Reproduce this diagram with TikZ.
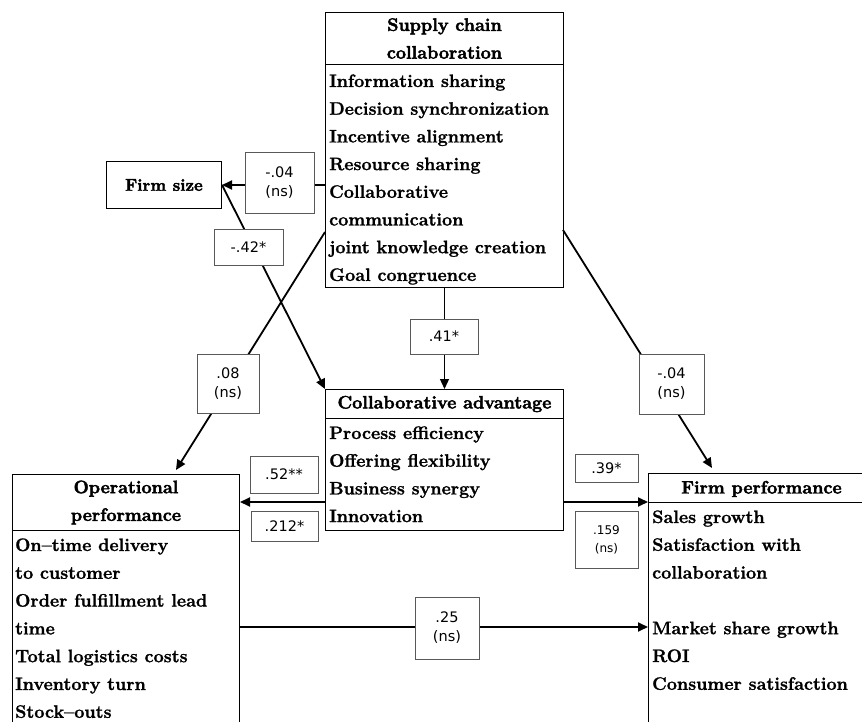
\documentclass[tikz,border=0pt]{standalone}
\usepackage{fontspec}
\setmainfont{Latin Modern Roman}[BoldFeatures={FakeBold=1.3}]
\newfontfamily\ttlfont{Latin Modern Roman}[BoldFeatures={FakeBold=2.4}]
\newfontfamily\labfont{DejaVu Sans}
\usetikzlibrary{arrows.meta,calc}
\begin{document}
\begin{tikzpicture}[x=1pt,y=-1pt,
  box/.style={draw=black, line width=1pt, inner sep=0pt, anchor=north west, align=center,
    font=\ttlfont\fontsize{18}{27.7}\selectfont\bfseries},
  item/.style={anchor=west, font=\fontsize{18}{20}\selectfont\bfseries, inner sep=0pt,
    text height=14pt, text depth=4pt},
  lab/.style={draw=black!65, line width=0.8pt, fill=white, align=center, inner sep=0pt,
    font=\labfont\fontsize{14.5}{19}\selectfont},
  arr/.style={-{Triangle[length=10pt,width=9pt]}, line width=1.8pt},
  varr/.style={-{Triangle[length=10pt,width=9pt]}, line width=1.3pt}]

\useasboundingbox (0,0) rectangle (862,722);
\clip (0,0) rectangle (862,722);

% ---- main boxes ----
\node[box, minimum width=238pt, minimum height=52pt] (scct) at (325,12) {Supply chain\\collaboration};
\node[box, minimum width=238pt, minimum height=223pt] (sccb) at (325,64) {};
\foreach \t [count=\i from 0] in {Information sharing, Decision synchronization, Incentive alignment,
  Resource sharing, Collaborative, communication, joint knowledge creation, Goal congruence}
  \node[item] (scci\i) at (329,{82+\i*27.7}) {\t};

\node[box, minimum width=115pt, minimum height=47pt, font=\ttlfont\fontsize{17}{20}\selectfont\bfseries]
  (fs) at (106,161) {Firm size};

\node[box, minimum width=238pt, minimum height=29pt] (cat) at (325,389) {Collaborative advantage};
\node[box, minimum width=238pt, minimum height=112pt] (cab) at (325,418) {};
\foreach \t [count=\i from 0] in {Process efficiency, Offering flexibility, Business synergy, Innovation}
  \node[item] (cai\i) at (329,{434+\i*27.7}) {\t};

\node[box, minimum width=227pt, minimum height=56pt] (opt) at (12,474) {Operational\\performance};
\node[box, minimum width=227pt, minimum height=220pt] (opb) at (12,530) {};
\foreach \t [count=\i from 0] in {On--time delivery, to customer, Order fulfillment lead, time,
  Total logistics costs, Inventory turn, Stock--outs}
  \node[item] (opi\i) at (15,{546+\i*27.8}) {\t};

\node[box, minimum width=226pt, minimum height=29pt, text height=13pt, text depth=2pt] (fpt) at (648,473) {Firm performance};
\node[box, minimum width=226pt, minimum height=240pt] (fpb) at (648,502) {};
\foreach \t/\k in {Sales growth/0, Satisfaction with/1, collaboration/2,
  Market share growth/4, ROI/5, Consumer satisfaction/6}
  \node[item] (fpi\k) at (652,{518+\k*27.8}) {\t};

% ---- connector end points ----
\coordinate (sccL) at (325,232);
\coordinate (opA) at (176,470);
\coordinate (sccR) at (563,230);
\coordinate (fpA) at (712,468);
\coordinate (yA) at (0,502);
\coordinate (yB) at (0,627);

% ---- connectors ----
\draw[arr] (sccb.west |- fs.east) -- (fs.east);
\draw[arr] (fs.east) -- (cat.north west);
\draw[arr] (sccL) -- (opA);
\draw[varr] (sccb.south) -- (cat.north);
\draw[arr] (sccR) -- (fpA);
\draw[arr] (cab.west |- yA) -- (opt.east |- yA);
\draw[arr] (cab.east |- yA) -- (fpt.west |- yA);
\draw[arr] (opb.east |- yB) -- (fpb.west |- yB);

% ---- coefficient labels ----
\node[lab, minimum width=69pt, minimum height=61pt] (l04a) at (279.5,182.5) {-.04\\(ns)};
\node[lab, minimum width=69pt, minimum height=36pt] (l42) at (248.5,247) {-.42*};
\node[lab, minimum width=68pt, minimum height=35pt] (l41) at (444,336.5) {.41*};
\node[lab, minimum width=62pt, minimum height=59pt] (l08) at (228,383.5) {.08\\(ns)};
\node[lab, minimum width=65pt, minimum height=60pt] (l04b) at (671.5,384) {-.04\\(ns)};
\node[lab, minimum width=68pt, minimum height=37pt] (l52) at (284,474.5) {.52**};
\node[lab, minimum width=67pt, minimum height=30pt] (l212) at (284.5,526) {.212*};
\node[lab, minimum width=63pt, minimum height=28pt] (l39) at (606.5,468) {.39*};
\node[lab, minimum width=63pt, minimum height=57pt, font=\labfont\fontsize{12}{18}\selectfont]
  (l159) at (606.5,539.5) {.159\\(ns)};
\node[lab, minimum width=64pt, minimum height=62pt] (l25) at (447,628) {.25\\(ns)};
\end{tikzpicture}
\end{document}
